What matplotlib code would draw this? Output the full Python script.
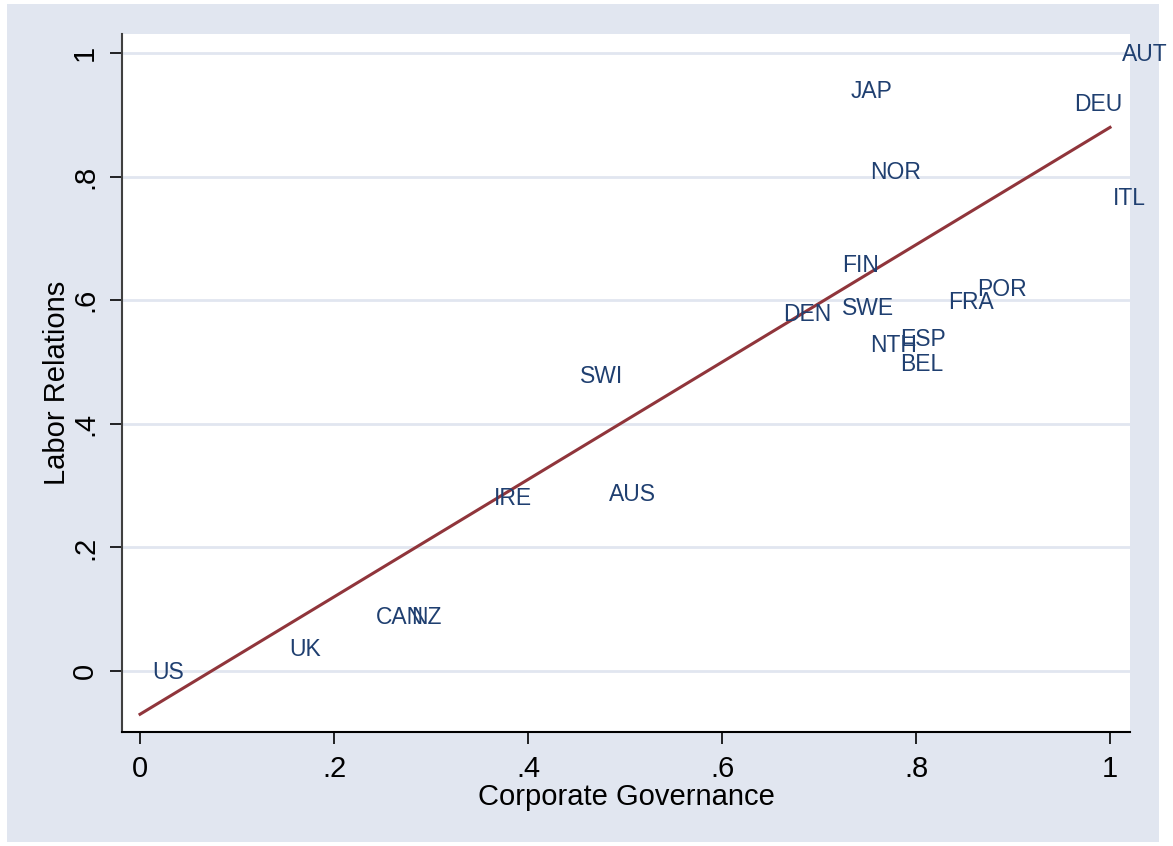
import numpy as np
import matplotlib
matplotlib.use("Agg")
import matplotlib.pyplot as plt
from matplotlib.patches import Rectangle

# country codes and scores
countries = ['US', 'UK', 'CAN', 'NZ', 'IRE', 'AUS', 'SWI', 'DEN', 'FIN', 'SWE',
             'NTH', 'ESP', 'BEL', 'FRA', 'POR', 'JAP', 'NOR', 'DEU', 'AUT', 'ITL']
corp_gov = [0.000, 0.141, 0.231, 0.267, 0.352, 0.471, 0.441, 0.651, 0.711, 0.711,
            0.740, 0.771, 0.771, 0.821, 0.851, 0.720, 0.740, 0.951, 1.000, 0.991]
labor_rel = [0.000, 0.037, 0.089, 0.089, 0.282, 0.288, 0.479, 0.579, 0.659, 0.589,
             0.529, 0.539, 0.498, 0.599, 0.620, 0.940, 0.809, 0.919, 1.000, 0.767]

x_ticks = [0, 0.2, 0.4, 0.6, 0.8, 1]
x_ticklabels = ['0', '.2', '.4', '.6', '.8', '1']
y_ticks = [0, 0.2, 0.4, 0.6, 0.8, 1]
y_ticklabels = ['0', '.2', '.4', '.6', '.8', '1']

plt.rcParams['font.family'] = ['Liberation Sans', 'DejaVu Sans']

BG = '#e1e6f0'
NAVY = '#1f3f70'
MAROON = '#90353b'

fig = plt.figure(figsize=(11.73, 8.46), dpi=100)
fig.patches.append(Rectangle((7 / 1173, 4 / 846), 1152 / 1173, 838 / 846,
                             transform=fig.transFigure, facecolor=BG,
                             edgecolor='none', zorder=-10))
ax = fig.add_axes([122 / 1173, 1 - 732 / 846, 1008 / 1173, 698 / 846])
ax.set_facecolor('white')

x = np.array(corp_gov)
y = np.array(labor_rel)

# labels only, placed to the right of each point (Stata mlabel style)
for name, xi, yi in zip(countries, x, y):
    ax.annotate(name, (xi, yi), xytext=(8.6, -5.9), textcoords='offset points',
                ha='left', va='baseline', fontsize=16.5, color=NAVY,
                annotation_clip=False, zorder=4)

# linear fit line
slope, intercept = np.polyfit(x, y, 1)
xs = np.array([x.min(), x.max()])
ax.plot(xs, intercept + slope * xs, color=MAROON, linewidth=2.2, zorder=3)

ax.set_xlim(-0.0186, 1.0206)
ax.set_ylim(-0.0987, 1.0307)

for yt in y_ticks:
    ax.axhline(yt, color=BG, linewidth=2, zorder=1)

ax.set_xticks(x_ticks)
ax.set_xticklabels(x_ticklabels, fontsize=21)
ax.set_yticks(y_ticks)
ax.set_yticklabels(y_ticklabels, fontsize=21, rotation=90, va='center')
ax.tick_params(axis='both', length=8.6, width=1.2, pad=8, colors='black')

for s in ['top', 'right']:
    ax.spines[s].set_visible(False)
ax.spines['left'].set_color('#404040')
ax.spines['bottom'].set_color('black')
ax.spines['left'].set_linewidth(1.5)
ax.spines['bottom'].set_linewidth(1.5)

ax.set_xlabel('Corporate Governance', fontsize=21, labelpad=0)
ax.set_ylabel('Labor Relations', fontsize=21, labelpad=0)

plt.savefig('out.png', dpi=100)
